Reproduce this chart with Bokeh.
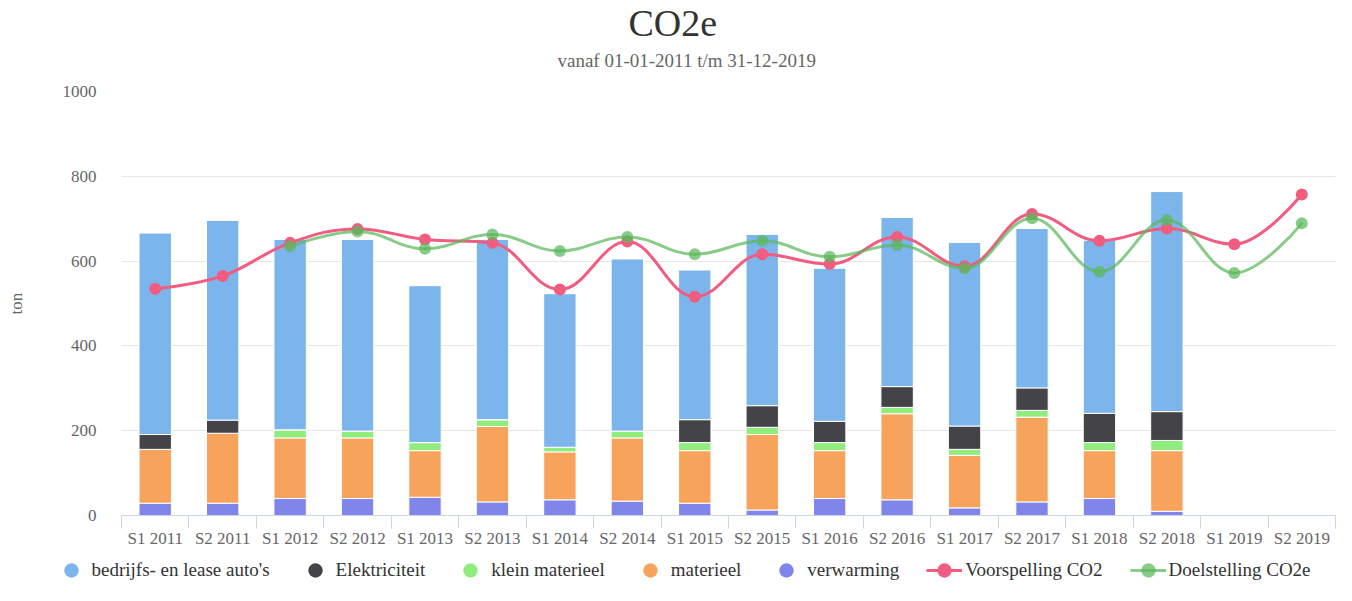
import numpy as np
from bokeh.plotting import figure
from bokeh.layouts import column
from bokeh.models import ColumnDataSource, Range1d, FixedTicker, Legend, LegendItem, Label
from bokeh.embed import file_html
from bokeh.resources import INLINE

categories = ["S1 2011", "S2 2011", "S1 2012", "S2 2012", "S1 2013", "S2 2013",
              "S1 2014", "S2 2014", "S1 2015", "S2 2015", "S1 2016", "S2 2016",
              "S1 2017", "S2 2017", "S1 2018", "S2 2018", "S1 2019", "S2 2019"]

auto = [475, 471, 449, 452, 370, 425, 362, 406, 353, 404, 361, 399, 433, 376, 408, 519, None, None]
elektriciteit = [35, 31, 0, 0, 0, 0, 0, 0, 54, 51, 50, 49, 55, 53, 69, 68, None, None]
klein_materieel = [0, 0, 19, 16, 19, 16, 11, 16, 19, 17, 19, 15, 14, 16, 19, 24, None, None]
materieel = [127, 165, 143, 143, 110, 178, 113, 149, 124, 178, 113, 203, 124, 200, 113, 143, None, None]
verwarming = [29, 29, 40, 40, 43, 32, 37, 34, 29, 13, 40, 37, 18, 32, 40, 10, None, None]

voorspelling = [535, 565, 643, 676, 651, 643, 533, 646, 516, 616, 593, 657, 588, 711, 648, 677, 640, 757]
doelstelling = [None, None, 635, 670, 629, 663, 624, 657, 616, 648, 610, 638, 583, 701, 575, 697, 572, 689]

y_ticks = [0, 200, 400, 600, 800, 1000]

TITLE = "CO2e"
SUBTITLE = "vanaf 01-01-2011 t/m 31-12-2019"

FONT = "Liberation Serif"
C_AUTO, C_ELEK, C_KLEIN, C_MAT, C_VERW = "#7cb5ec", "#434348", "#90ed7d", "#f7a35c", "#8085e9"
C_RED, C_GREEN = "#f15c80", "#5cb85c"

W = 1336
H_TOP, H_MAIN, H_LEG = 81, 469, 35

n = len(categories)
centers = [i + 0.5 for i in range(n)]
bounds = [float(i) for i in range(n + 1)]


def arr(v):
    return [np.nan if a is None else float(a) for a in v]


def strip(h):
    f = figure(width=W, height=h, output_backend="svg", toolbar_location=None,
               x_range=Range1d(0, 1), y_range=Range1d(0, 1), title=None,
               x_axis_type=None, y_axis_type=None, min_border=0)
    f.outline_line_color = None
    f.xgrid.visible = False
    f.ygrid.visible = False
    f.frame_align = False
    return f


# ---- title strip ----
tf = strip(H_TOP)
tf.add_layout(Label(x=628, y=H_TOP - 22, x_units="screen", y_units="screen", text=TITLE,
                    text_align="left", text_baseline="middle", text_font=FONT,
                    text_font_size="38px", text_color="#333333"))
tf.add_layout(Label(x=557, y=H_TOP - 60, x_units="screen", y_units="screen", text=SUBTITLE,
                    text_align="left", text_baseline="middle", text_font=FONT,
                    text_font_size="19px", text_color="#666666"))

# ---- main chart ----
src = ColumnDataSource(dict(x=centers, verw=arr(verwarming), mat=arr(materieel),
                            klein=arr(klein_materieel), elek=arr(elektriciteit), auto=arr(auto)))

p = figure(width=W, height=H_MAIN, output_backend="svg", toolbar_location=None,
           x_range=Range1d(0, n), y_range=Range1d(0, 1000), title=None,
           min_border_left=121, min_border_right=1, min_border_top=10, min_border_bottom=35)
p.outline_line_color = None
p.frame_align = False

p.vbar_stack(["verw", "mat", "klein", "elek", "auto"], x="x", width=0.48, source=src,
             color=[C_VERW, C_MAT, C_KLEIN, C_ELEK, C_AUTO], line_color="white", line_width=1)


def spline(xs, ys):
    m = len(xs)
    lcx, lcy, rcx, rcy = list(xs), list(ys), list(xs), list(ys)
    s = 1.5
    d = s + 1
    for i in range(1, m - 1):
        px, py = xs[i], ys[i]
        lx, ly = xs[i - 1], ys[i - 1]
        nx, ny = xs[i + 1], ys[i + 1]
        lX = (s * px + lx) / d
        lY = (s * py + ly) / d
        rX = (s * px + nx) / d
        rY = (s * py + ny) / d
        corr = ((rY - lY) * (rX - px)) / (rX - lX) + py - rY
        lY += corr
        rY += corr
        if lY > ly and lY > py:
            lY = max(ly, py); rY = 2 * py - lY
        elif lY < ly and lY < py:
            lY = min(ly, py); rY = 2 * py - lY
        if rY > ny and rY > py:
            rY = max(ny, py); lY = 2 * py - rY
        elif rY < ny and rY < py:
            rY = min(ny, py); lY = 2 * py - rY
        lcx[i], lcy[i], rcx[i], rcy[i] = lX, lY, rX, rY
    return dict(x0=xs[:-1], y0=ys[:-1], x1=xs[1:], y1=ys[1:],
                cx0=rcx[:-1], cy0=rcy[:-1], cx1=lcx[1:], cy1=lcy[1:])


def line_series(vals, color, alpha):
    xs = [centers[i] for i, v in enumerate(vals) if v is not None]
    ys = [float(v) for v in vals if v is not None]
    p.bezier(source=ColumnDataSource(spline(xs, ys)), x0="x0", y0="y0", x1="x1", y1="y1",
             cx0="cx0", cy0="cy0", cx1="cx1", cy1="cy1",
             line_color=color, line_width=3, line_alpha=alpha, line_cap="round")
    p.scatter(xs, ys, size=12, marker="circle", fill_color=color, fill_alpha=alpha, line_color=None)


line_series(voorspelling, C_RED, 1.0)
line_series(doelstelling, C_GREEN, 0.72)

p.xgrid.visible = False
p.ygrid.grid_line_color = "#e6e6e6"
p.ygrid.ticker = FixedTicker(ticks=y_ticks)

xa = p.xaxis[0]
xa.ticker = FixedTicker(ticks=centers, minor_ticks=bounds)
xa.major_label_overrides = {c: lab for c, lab in zip(centers, categories)}
xa.major_tick_out = 0
xa.major_tick_in = 0
xa.minor_tick_out = 13
xa.minor_tick_in = 0
xa.minor_tick_line_color = "#ccd6eb"
xa.axis_line_color = "#ccd6eb"
xa.major_label_standoff = 0
xa.major_label_text_font = FONT
xa.major_label_text_font_size = "17px"
xa.major_label_text_color = "#666666"

ya = p.yaxis[0]
ya.ticker = FixedTicker(ticks=y_ticks)
ya.axis_line_color = None
ya.major_tick_line_color = None
ya.minor_tick_line_color = None
ya.major_label_standoff = 19
ya.major_label_text_font = FONT
ya.major_label_text_font_size = "17px"
ya.major_label_text_color = "#666666"
ya.axis_label = "ton"
ya.axis_label_text_font = FONT
ya.axis_label_text_font_size = "17px"
ya.axis_label_text_color = "#666666"
ya.axis_label_text_font_style = "normal"
ya.axis_label_standoff = 34

# ---- legend strip (renderers kept outside the visible range, used only for legend glyphs) ----
lg = strip(H_LEG)
items = []
for lab, col in [("bedrijfs- en lease auto's", C_AUTO), ("Elektriciteit", C_ELEK),
                 ("klein materieel", C_KLEIN), ("materieel", C_MAT), ("verwarming", C_VERW)]:
    r = lg.scatter([-10], [-10], marker="circle", fill_color=col, line_color=None)
    items.append(LegendItem(label=lab, renderers=[r]))

for lab, col, al in [("Voorspelling CO2", C_RED, 1.0), ("Doelstelling CO2e", C_GREEN, 0.72)]:
    rl = lg.line([-10, -9], [-10, -10], line_color=col, line_width=3, line_alpha=al)
    rs = lg.scatter([-10], [-10], marker="circle", fill_color=col, fill_alpha=al, line_color=None)
    items.append(LegendItem(label=lab, renderers=[rl, rs]))

leg = Legend(items=items, location=(52.5, -3), orientation="horizontal", padding=0, margin=0,
             border_line_color=None, background_fill_alpha=0, glyph_width=36, glyph_height=36,
             label_standoff=3, spacing=27, label_text_font=FONT, label_text_font_size="19px",
             label_text_color="#333333")
lg.add_layout(leg, "center")

layout = column(tf, p, lg, spacing=0)
open("out.html", "w").write(file_html(layout, INLINE))
